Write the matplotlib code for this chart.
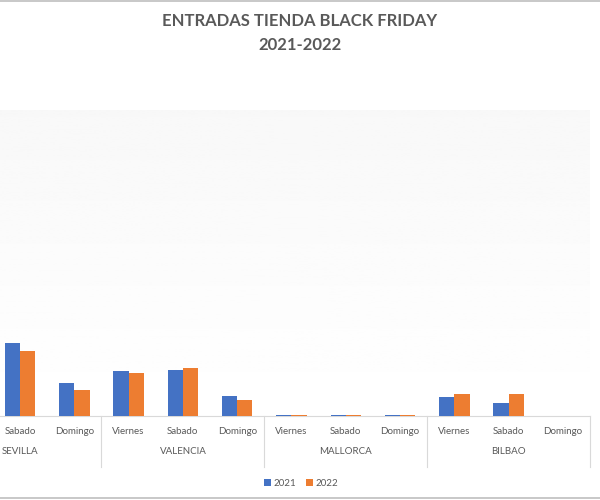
import numpy as np
import matplotlib
matplotlib.use("Agg")
import matplotlib.pyplot as plt
from matplotlib.transforms import blended_transform_factory

plt.rcParams["font.family"] = ["Lato", "DejaVu Sans"]

# datos (escala arbitraria)
ciudades = ["SEVILLA", "VALENCIA", "MALLORCA", "BILBAO"]
dias = ["Viernes", "Sabado", "Domingo"]
v2021 = [np.nan, 73.3, 33.3, 45, 46, 20, 1.2, 1.0, 0.7, 19.3, 12.7, 0]
v2022 = [np.nan, 65, 26, 42.7, 48.3, 16, 0.9, 0.8, 0.7, 22, 21.7, 0]
años = ["2021", "2022"]

azul = "#4472C4"
naranja = "#ED7D31"
gris_txt = "#595959"
gris_lin = "#D9D9D9"

fig = plt.figure(figsize=(6, 5), dpi=100)
ax = fig.add_axes([0, 0.168, 590 / 600, 0.612])

n = len(ciudades) * len(dias)
x = np.arange(n)
w = 0.28
ax.bar(x - w / 2, v2021, w, color=azul, label=años[0], zorder=3)
ax.bar(x + w / 2, v2022, w, color=naranja, label=años[1], zorder=3)

# fondo degradado del area de trazado
grad = np.linspace(1.0, 0.945, 256) ** 0.5
grad = grad.reshape(-1, 1)
ax.imshow(grad, cmap="gray", vmin=0, vmax=1, aspect="auto",
          extent=[0, 1, 1, 0], transform=ax.transAxes, zorder=0)

ax.set_xlim(0.63, n - 0.5)
ax.set_ylim(0, 306)

for s in ["top", "left", "right"]:
    ax.spines[s].set_visible(False)
ax.spines["bottom"].set_color(gris_lin)
ax.set_yticks([])
ax.set_xticks(x[1:])
ax.set_xticklabels((dias * len(ciudades))[1:], fontsize=7, color=gris_txt)
ax.tick_params(axis="x", length=0, pad=8)

trans = blended_transform_factory(ax.transData, ax.transAxes)
for i, c in enumerate(ciudades):
    ax.text(i * 3 + 1, -0.115, c, transform=trans, ha="center", va="center",
            fontsize=7, color=gris_txt)
    # separadores de grupo
    xs = i * 3 + 2.5
    ax.plot([xs, xs], [0, -0.167], transform=trans, color=gris_lin,
            lw=0.8, clip_on=False)

fig.text(0.5, 0.958, "ENTRADAS TIENDA BLACK FRIDAY", ha="center", va="center",
         fontsize=12, fontweight="bold", color=gris_txt)
fig.text(0.5, 0.91, "2021-2022", ha="center", va="center",
         fontsize=12, fontweight="bold", color=gris_txt)

fig.legend(loc="center", bbox_to_anchor=(0.502, 0.034), ncol=2, frameon=False,
           fontsize=7, labelcolor=gris_txt, handlelength=0.7, handleheight=0.7,
           handletextpad=0.3, columnspacing=1.0)

# bordes de la captura
fig.add_artist(plt.Line2D([0, 1], [0.999, 0.999], color="#BFBFBF", lw=1.2))
fig.add_artist(plt.Line2D([0, 1], [0.005, 0.005], color="#BFBFBF", lw=1.2))

fig.savefig("out.png", dpi=100)
